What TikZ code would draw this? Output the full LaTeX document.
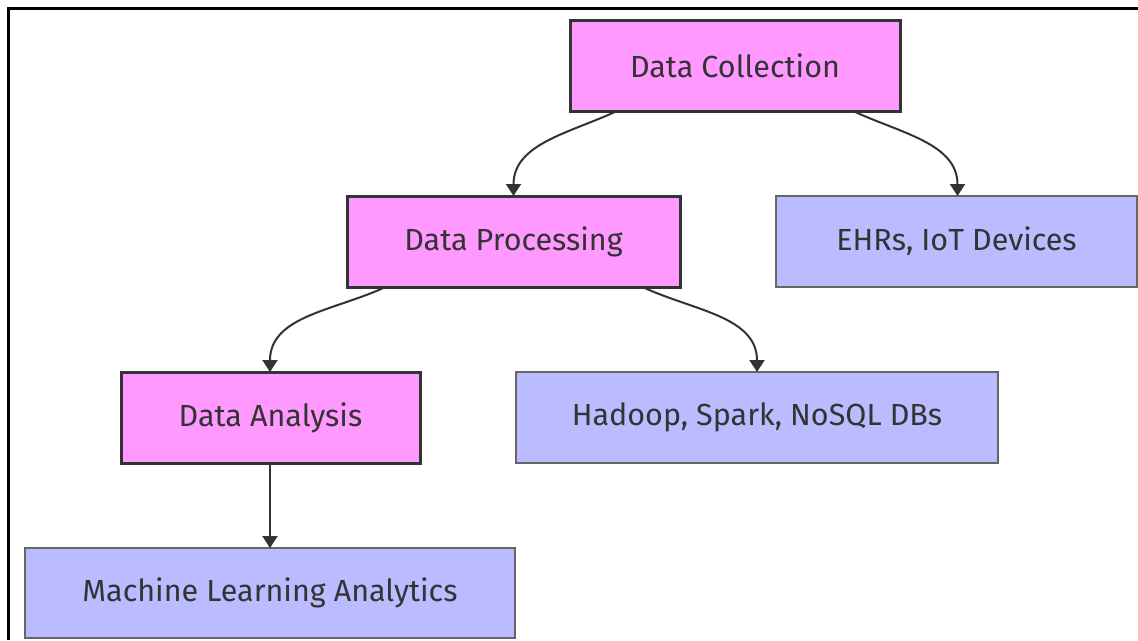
\documentclass[tikz,border=0pt]{standalone}
\usepackage{fontspec}
\setmainfont{Fira Sans}
\usepackage{xcolor}
\usepackage{tikz}
\usetikzlibrary{arrows.meta}

\definecolor{stagepink}{HTML}{FF99FF}
\definecolor{toolblue}{HTML}{BBBBFF}
\definecolor{inkgray}{HTML}{333333}
\definecolor{edgegray}{HTML}{666666}

\begin{document}
\begin{tikzpicture}[x=1pt,y=-1pt,
				box/.style={rectangle,inner sep=0pt,outer sep=0pt,minimum height=91pt,
					text=inkgray,font=\fontsize{30.5}{34}\selectfont},
				stage/.style={box,fill=stagepink,draw=inkgray,line width=3pt},
				tool/.style={box,fill=toolblue,draw=edgegray,line width=1.8pt},
				flow/.style={draw=inkgray,line width=2pt,-{Triangle[width=15pt,length=12pt]}}]
				
				% Frame
				\useasboundingbox (0,0) rectangle (1138,640);
				\draw[line width=3pt] (8,640) -- (8,8) -- (1138,8);
				
				% Stages
				\node[stage,minimum width=330pt] (DC) at (735,65.5) {Data Collection};
				\node[stage,minimum width=333pt] (DP) at (513.5,241.5) {Data Processing};
				\node[stage,minimum width=299pt] (DA) at (270.5,417.5) {Data Analysis};
				
				% Tools
				\node[tool,minimum width=361pt] (EH) at (956.5,241.5) {EHRs, IoT Devices};
				\node[tool,minimum width=482pt] (HS) at (757,417.5) {Hadoop, Spark, NoSQL DBs};
				\node[tool,minimum width=490pt,minimum height=90pt] (ML) at (270,593) {Machine Learning Analytics};
				
				% Connections
				\draw[flow] ([xshift=-118pt]DC.south) to[out=-155,in=90] (DP.north);
				\draw[flow] ([xshift=118pt]DC.south) to[out=-25,in=90] ([xshift=1pt]EH.north);
				\draw[flow] ([xshift=-128pt]DP.south) to[out=-155,in=90] ([xshift=-0.5pt]DA.north);
				\draw[flow] ([xshift=129pt]DP.south) to[out=-25,in=90] (HS.north);
				\draw[flow] ([xshift=-0.5pt]DA.south) -- (ML.north);
			\end{tikzpicture}
\end{document}
